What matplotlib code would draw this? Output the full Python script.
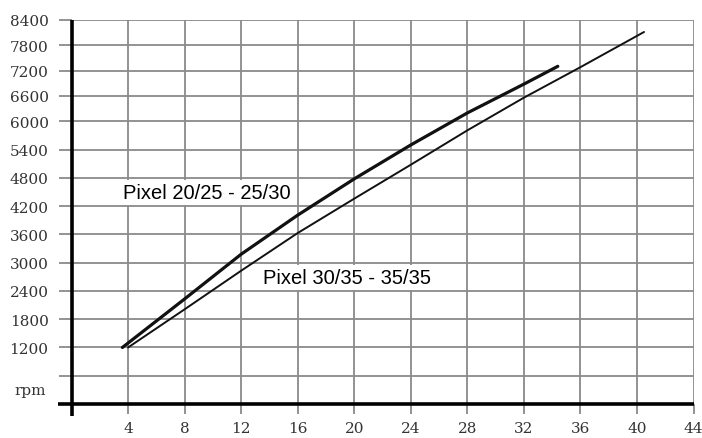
import numpy as np
import matplotlib
matplotlib.use("Agg")
import matplotlib.pyplot as plt

# values
x_ticks = [4, 8, 12, 16, 20, 24, 28, 32, 36, 40, 44]
y_ticks = [600, 1200, 1800, 2400, 3000, 3600, 4200, 4800, 5400, 6000, 6600, 7200, 7800, 8400]
y_tick_labels = [''] + [str(v) for v in y_ticks[1:]]

small_x = [3.6, 8, 12, 16, 20, 24, 28, 32, 34.4]
small_rpm = [1200, 2230, 3180, 4010, 4780, 5500, 6200, 6880, 7300]
small_label = 'Pixel 20/25 - 25/30'

big_x = [4.0, 8, 12, 16, 20, 24, 28, 32, 36, 40.5]
big_rpm = [1200, 2010, 2830, 3630, 4360, 5080, 5810, 6560, 7280, 8110]
big_label = 'Pixel 30/35 - 35/35'


# the printed scale is a little squeezed above 6000
def fwd(v):
    v = np.asarray(v, dtype=float)
    return np.where(v <= 6000, v, 6000 + (v - 6000) * 0.9)


def inv(u):
    u = np.asarray(u, dtype=float)
    return np.where(u <= 6000, u, 6000 + (u - 6000) / 0.9)


grid_c = '#8a8a8a'

fig = plt.figure(figsize=(7.02, 4.39), dpi=100)
ax = fig.add_axes([71.5 / 702, 34 / 439, 622 / 702, 384.3 / 439])
ax.set_yscale('function', functions=(fwd, inv))
ax.set_xlim(0, 44)
ax.set_ylim(0, 8400)

ax.set_xticks(x_ticks)
ax.set_yticks(y_ticks)
ax.set_yticklabels(y_tick_labels)
ax.grid(True, color=grid_c, lw=1.3)
ax.tick_params(axis='x', direction='out', length=7.5, width=1.3, color=grid_c, pad=5)
ax.tick_params(axis='y', direction='out', length=9.5, width=1.3, color=grid_c, pad=7)
for lab in ax.get_xticklabels() + ax.get_yticklabels():
    lab.set_fontfamily('DejaVu Serif')
    lab.set_fontsize(11)
    lab.set_color('#333333')

for s in ax.spines.values():
    s.set_visible(False)
# heavy axis lines, running slightly past the corner
ax.plot([0, 0], [-0.031, 1.0], transform=ax.transAxes, color='black', lw=2.6,
        clip_on=False, zorder=5, solid_capstyle='butt')
ax.plot([-0.022, 1.0], [0, 0], transform=ax.transAxes, color='black', lw=2.6,
        clip_on=False, zorder=5, solid_capstyle='butt')

ax.plot(small_x, small_rpm, color='#111111', lw=2.3, zorder=4, solid_capstyle='round')
ax.plot(big_x, big_rpm, color='#111111', lw=1.4, zorder=4, solid_capstyle='round')

box = dict(facecolor='white', edgecolor='none', pad=2)
ax.text(3.62, 4495, small_label, fontsize=14.5, family='Liberation Sans',
        ha='left', va='center', bbox=box, zorder=3)
ax.text(13.53, 2682, big_label, fontsize=14.5, family='Liberation Sans',
        ha='left', va='center', bbox=box, zorder=3)

ax.text(-0.041, 300, 'rpm', transform=ax.get_yaxis_transform(), fontsize=11,
        family='DejaVu Serif', color='#333333', ha='right', va='center')

fig.savefig('out.png', dpi=100, facecolor='white')
